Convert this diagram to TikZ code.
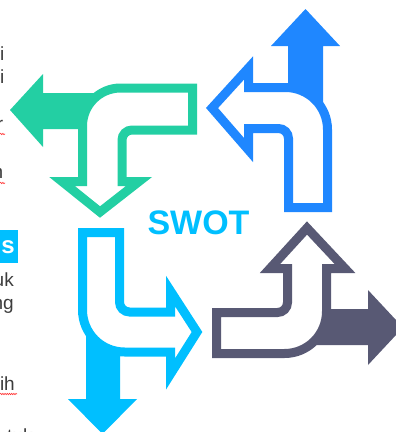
\documentclass[tikz,border=0pt]{standalone}
\usepackage{fontspec}
\setmainfont{Liberation Sans}
\usetikzlibrary{decorations.pathmorphing}
\definecolor{swgreen}{RGB}{35,207,163}
\definecolor{swblue}{RGB}{31,135,255}
\definecolor{swcyan}{RGB}{0,191,255}
\definecolor{swslate}{RGB}{88,89,116}
\definecolor{txtgray}{RGB}{60,60,60}
\begin{document}
\begin{tikzpicture}[x=1pt,y=-1pt,
  outl/.style={line width=9pt, line join=miter, miter limit=10, fill=white},
  solidarrow/.style={draw=none},
  frag/.style={inner sep=0pt, text=txtgray, font=\fontsize{19}{19}\selectfont},
  squig/.style={draw=red!80, line width=0.6pt, decorate, decoration={snake, segment length=2.2pt, amplitude=0.7pt}}]
\useasboundingbox (0,0) rectangle (396,432);
\clip (0,0) rectangle (396,432);

% ---- left text fragments ----
\node[frag, anchor=base east] (f1) at (4.5,60) {i};
\node[frag, anchor=base east] (f2) at (4.5,83) {i};
\node[frag, anchor=base east] (f3) at (3.5,130) {r};
\draw[squig] (0,134) -- (5,134);
\node[frag, anchor=base east] (f4) at (3.5,178) {n};
\draw[squig] (0,183) -- (5,183);
\fill[swcyan] (-5,230) rectangle (18,263);
\node[inner sep=0pt, anchor=base east, text=white, font=\bfseries\fontsize{24}{24}\selectfont] (f5) at (15,253) {s};
\node[frag, anchor=base east] (f6) at (14,286) {uk};
\node[frag, anchor=base east] (f7) at (14,309) {ng};
\node[frag, anchor=base east] (f8) at (15,390) {ih};
\draw[squig] (0,394) -- (17,394);
\node[frag, anchor=base west] (f9) at (7,442) {tuk};

% ---- solid arrows (behind) ----
% green, pointing left
\fill[swgreen] (120,93) -- (43,93) -- (43,74) -- (10,110) -- (43,147) -- (43,129) -- (120,129) -- cycle;
% blue, pointing up
\fill[swblue] (288,130) -- (288,46) -- (271,46) -- (305.5,9) -- (340,46) -- (323,46) -- (323,130) -- cycle;
% cyan, pointing down
\fill[swcyan] (86,320) -- (86,399) -- (68,399) -- (102.5,434) -- (137,399) -- (120,399) -- (120,320) -- cycle;
% slate, pointing right
\fill[swslate] (300,309) -- (368,309) -- (368,290) -- (403,327.5) -- (368,365) -- (368,345) -- (300,345) -- cycle;

% ---- outlined turning arrows ----
% green: from right, turning down
\draw[outl, draw=swgreen] (192.5,88) -- (192.5,130) -- (132,130)
  arc[start angle=-90, end angle=-180, radius=10]
  -- (122,181.5) -- (139,181.5) -- (100,212) -- (62,181.5) -- (82.5,181.5)
  -- (82.5,126) arc[start angle=180, end angle=270, radius=38] -- cycle;
% blue: from bottom, turning left
\draw[outl, draw=swblue] (288.5,207.5) -- (327.5,207.5) -- (327.5,129.5)
  arc[start angle=0, end angle=-90, radius=42]
  -- (248.5,87.5) -- (248.5,68) -- (212,108) -- (248.5,150) -- (248.5,128.5)
  -- (278.5,128.5) arc[start angle=-90, end angle=0, radius=10] -- cycle;
% cyan: from top, turning right
\draw[outl, draw=swcyan] (82.5,232.5) -- (119.5,232.5) -- (119.5,302)
  arc[start angle=180, end angle=90, radius=10]
  -- (170.5,312) -- (170.5,291) -- (197,332) -- (170.5,374) -- (170.5,352)
  -- (124.5,352) arc[start angle=90, end angle=180, radius=42] -- cycle;
% slate: from left, turning up
\draw[outl, draw=swslate] (216.5,312.5) -- (277.5,312.5)
  arc[start angle=90, end angle=0, radius=10]
  -- (287.5,268.5) -- (270,268.5) -- (307,228) -- (345,268.5) -- (326.5,268.5)
  -- (326.5,311.5) arc[start angle=0, end angle=90, radius=42]
  -- (216.5,353.5) -- cycle;

% ---- title ----
\node[inner sep=0pt, text=swcyan, font=\bfseries\fontsize{34}{34}\selectfont] (swot) at (198.5,223) {SWOT};
\end{tikzpicture}
\end{document}
